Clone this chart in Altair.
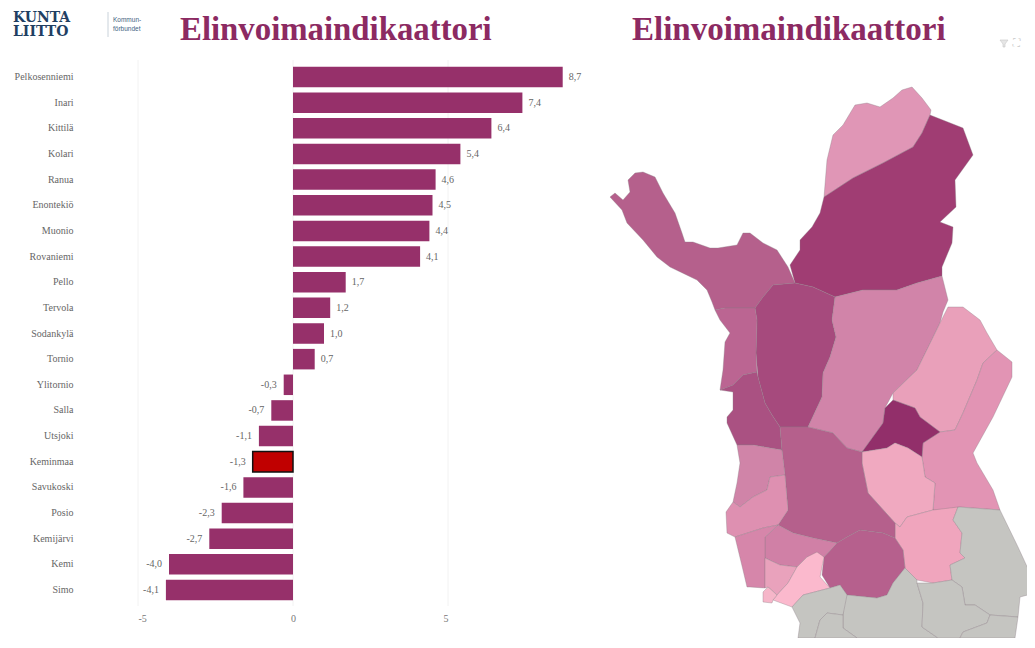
import altair as alt
import pandas as pd

# ---------- bar chart data ----------
names = ["Pelkosenniemi", "Inari", "Kittilä", "Kolari", "Ranua", "Enontekiö", "Muonio",
         "Rovaniemi", "Pello", "Tervola", "Sodankylä", "Tornio", "Ylitornio", "Salla",
         "Utsjoki", "Keminmaa", "Savukoski", "Posio", "Kemijärvi", "Kemi", "Simo"]
values = [8.7, 7.4, 6.4, 5.4, 4.6, 4.5, 4.4, 4.1, 1.7, 1.2, 1.0, 0.7,
          -0.3, -0.7, -1.1, -1.3, -1.6, -2.3, -2.7, -4.0, -4.1]
x_ticks = [-5, 0, 5]
TITLE = "Elinvoimaindikaattori"

# ---------- map regions (page pixels) ----------
utsjoki = [(824,197),(827,160),(833,135),(843,125),(855,105),(867,103),(880,107),(893,98),(902,90),(912,87),(922,98),(931,110),(930,115),(922,133),(913,147),(883,163),(853,178)]
inari = [(824,197),(853,178),(883,163),(913,147),(922,133),(930,115),(963,128),(973,155),(955,180),(956,207),(940,222),(953,227),(952,243),(942,267),(942,276),(917,283),(897,290),(863,290),(835,297),(813,287),(795,283),(790,265),(800,250),(800,240),(812,227),(820,213)]
enontekio = [(610,197),(615,193),(623,200),(630,192),(628,180),(635,173),(643,172),(655,177),(663,193),(675,213),(682,233),(685,242),(693,242),(710,248),(718,248),(737,245),(743,233),(750,233),(763,243),(777,250),(788,267),(795,283),(773,285),(763,297),(755,308),(725,308),(715,310),(712,302),(707,290),(697,280),(670,267),(657,257),(643,240),(627,223),(622,210)]
kittila = [(773,285),(795,283),(813,287),(835,297),(832,320),(836,337),(830,357),(823,373),(822,397),(808,427),(780,427),(772,415),(765,403),(758,377),(756,353),(757,320),(755,308),(763,297)]
muonio = [(715,310),(725,308),(755,308),(757,320),(756,353),(757,372),(743,375),(733,385),(720,390),(723,370),(725,342),(730,333),(720,320)]
kolari = [(720,390),(733,385),(743,375),(757,372),(758,377),(765,403),(772,415),(780,427),(782,450),(770,448),(753,445),(737,445),(727,423),(727,417),(733,410),(733,392)]
sodankyla = [(835,297),(863,290),(897,290),(917,283),(942,276),(948,300),(943,312),(940,323),(917,370),(893,393),(885,408),(883,423),(862,452),(847,448),(833,433),(808,427),(822,397),(823,373),(830,357),(836,337),(832,320)]
savukoski = [(948,307),(963,307),(980,320),(987,333),(997,350),(983,363),(977,380),(963,413),(955,430),(940,432),(920,417),(915,408),(893,400),(893,393),(917,370),(940,323)]
salla = [(997,350),(1012,362),(1012,377),(993,417),(973,453),(977,463),(993,490),(1000,510),(960,507),(943,510),(933,510),(935,483),(925,477),(922,457),(923,443),(940,432),(955,430),(963,413),(977,380),(983,363)]
pelkosenniemi = [(893,400),(915,408),(920,417),(940,432),(923,443),(922,457),(908,448),(895,443),(887,448),(862,452),(883,423),(885,408)]
kemijarvi = [(862,452),(887,448),(895,443),(908,448),(922,457),(925,477),(935,483),(933,510),(907,517),(900,527),(895,523),(868,493),(862,463)]
posio = [(907,517),(933,510),(958,507),(953,520),(962,533),(960,553),(965,558),(950,565),(952,580),(933,583),(917,580),(905,568),(903,550),(895,538),(895,523),(900,527)]
rovaniemi = [(780,427),(808,427),(833,433),(847,448),(862,452),(862,463),(868,493),(895,523),(895,538),(883,533),(860,530),(847,537),(837,543),(813,538),(793,533),(778,525),(788,510),(785,475),(782,450)]
ranua = [(837,543),(847,537),(860,530),(883,533),(895,538),(903,550),(905,568),(893,583),(887,595),(877,598),(847,595),(840,585),(830,588),(822,575),(824,557)]
pello = [(737,445),(753,445),(770,448),(782,450),(785,475),(770,477),(767,490),(753,497),(740,507),(733,502),(737,483),(740,463)]
ylitornio = [(733,502),(740,507),(753,497),(767,490),(770,477),(785,475),(788,510),(778,525),(763,528),(735,537),(727,533),(726,512)]
tervola = [(778,525),(793,533),(813,538),(837,543),(824,557),(807,557),(797,567),(780,565),(765,558),(765,537)]
tornio = [(735,537),(763,528),(778,525),(765,537),(765,558),(765,588),(750,587),(747,587),(743,570)]
keminmaa = [(765,558),(780,565),(797,567),(788,583),(777,595),(768,587),(765,588)]
simo = [(807,557),(817,552),(824,557),(820,577),(830,588),(803,595),(792,607),(773,600),(777,595),(788,583),(797,567)]
kemi = [(763,592),(768,587),(777,595),(773,600),(772,603),(763,602)]
gray1 = [(958,507),(1000,510),(1018,547),(1030,573),(1035,593),(1020,597),(1018,617),(990,615),(975,605),(965,605),(962,587),(952,580),(950,565),(965,558),(960,553),(962,533),(953,520)]
gray2 = [(843,595),(847,595),(877,598),(887,595),(893,583),(905,568),(917,580),(917,583),(923,603),(922,627),(938,638),(857,638),(843,628),(843,615)]
gray3 = [(917,583),(933,583),(952,580),(962,587),(965,605),(975,605),(990,615),(987,623),(963,632),(960,638),(938,638),(922,627),(923,603)]
gray4 = [(990,615),(1018,617),(1015,638),(960,638),(963,632),(987,623)]
gray5 = [(792,607),(803,595),(830,588),(840,585),(847,595),(843,615),(827,613),(820,620),(815,638),(798,638),(800,623)]
gray6 = [(827,613),(843,615),(843,628),(857,638),(815,638),(820,620)]
funnel_icon = [(1000,40),(1008,40),(1005,44),(1005,47),(1003,47),(1003,44)]

regions = [
    ("Utsjoki", utsjoki, "#e096b6"), ("Inari", inari, "#a03d73"), ("Enontekiö", enontekio, "#b5608c"),
    ("Kittilä", kittila, "#a64a7d"), ("Muonio", muonio, "#bb6592"), ("Kolari", kolari, "#aa5182"),
    ("Sodankylä", sodankyla, "#d184a9"), ("Savukoski", savukoski, "#e9a0ba"), ("Salla", salla, "#e294b4"),
    ("Pelkosenniemi", pelkosenniemi, "#922f6a"), ("Kemijärvi", kemijarvi, "#f0a9c0"), ("Posio", posio, "#f0a5bd"),
    ("Rovaniemi", rovaniemi, "#b5608c"), ("Ranua", ranua, "#b6608d"), ("Pello", pello, "#d084a8"),
    ("Ylitornio", ylitornio, "#de90b1"), ("Tervola", tervola, "#d080a6"), ("Tornio", tornio, "#d686aa"),
    ("Keminmaa", keminmaa, "#e9a2bc"), ("Simo", simo, "#fbb9cd"), ("Kemi", kemi, "#f6b6c9"),
    ("a", gray1, "#c5c5c1"), ("b", gray2, "#c5c5c1"), ("c", gray3, "#c5c5c1"),
    ("d", gray4, "#c5c5c1"), ("e", gray5, "#c5c5c1"), ("f", gray6, "#c5c5c1"),
]


def feature(name, pts, color):
    ring = [list(p) for p in pts] + [list(pts[0])]
    return {"type": "Feature", "geometry": {"type": "Polygon", "coordinates": [ring]},
            "properties": {"name": name, "color": color}}


features = [feature(*r) for r in regions]
df = pd.DataFrame({"name": names, "value": values})
df["label"] = df["value"].map(lambda v: f"{v:.1f}".replace(".", ","))

serif = "Liberation Serif"
x_enc = alt.X("value:Q", title=None,
              scale=alt.Scale(domain=[-5, 5], range=[130, 440], nice=False, zero=False),
              axis=alt.Axis(values=x_ticks, grid=False, domain=False, ticks=False, offset=-20,
                            labelFont=serif, labelFontSize=10, labelColor="#777777", labelPadding=0,
                            labelBaseline="middle", labelExpr="replace(datum.label, '−', '-')"))
y_enc = alt.Y("name:N", title=None,
              scale=alt.Scale(domain=names, range=[56.2, 594.8], paddingInner=0.2, paddingOuter=0.1),
              axis=alt.Axis(orient="left", offset=-65, domain=False, ticks=False, grid=False,
                            labelFont=serif, labelFontSize=10, labelColor="#666666", labelPadding=0,
                            labelLimit=120))

grid = alt.Chart(pd.DataFrame({"value": x_ticks})).mark_rule(color="#f2f2f2", strokeWidth=1).encode(
    x=x_enc, y=alt.value(52), y2=alt.value(598))

bars = alt.Chart(df).mark_bar(strokeWidth=1.5).encode(
    x=x_enc, y=y_enc,
    fill=alt.condition("datum.name === 'Keminmaa'", alt.value("#c00000"), alt.value("#96306a")),
    stroke=alt.condition("datum.name === 'Keminmaa'", alt.value("#111111"), alt.value("transparent")),
)

pos = alt.Chart(df[df["value"] >= 0]).mark_text(align="left", dx=6, font=serif, fontSize=10, color="#666666").encode(
    x=x_enc, y=y_enc, text="label:N")
neg = alt.Chart(df[df["value"] < 0]).mark_text(align="right", dx=-7, font=serif, fontSize=10, color="#666666").encode(
    x=x_enc, y=y_enc, text="label:N")

geo = alt.Chart(alt.Data(values=features)).mark_geoshape(stroke="#8a7a84", strokeWidth=0.5, strokeOpacity=0.7).encode(
    fill=alt.Color("properties.color:N", scale=None, legend=None)
).project(type="identity", scale=1, translate=[-8, -8])

icon = alt.Chart(alt.Data(values=[feature("icon", funnel_icon, "#d0d0d0")])).mark_geoshape(
    stroke="#c8c8c8", strokeWidth=0.6, fill="#e6e6e6"
).project(type="identity", scale=1, translate=[-8, -8])


def label(text, x, y, size, color, font=serif, weight="normal", align="left"):
    return alt.Chart(pd.DataFrame({"t": [text]})).mark_text(
        font=font, fontSize=size, color=color, fontWeight=weight, align=align, baseline="middle"
    ).encode(text="t:N", x=alt.value(x - 8), y=alt.value(y - 8))


texts = [
    label(TITLE, 180, 30, 32.8, "#8c2a62", weight="bold"),
    label(TITLE, 632, 30, 33, "#8c2a62", weight="bold"),
    label("KUNTA", 13, 18, 14, "#1f3f63", font="DejaVu Serif", weight="bold"),
    label("LIITTO", 13, 32, 14, "#1f3f63", font="DejaVu Serif", weight="bold"),
    label("Kommun-", 113, 20, 6.5, "#3f5f7f", font="Liberation Sans"),
    label("förbundet", 113, 29, 6.5, "#3f5f7f", font="Liberation Sans"),
    label("⛶", 1013, 43, 10, "#c8c8c8", font="DejaVu Sans"),
]

divider = alt.Chart(pd.DataFrame({"a": [0]})).mark_rule(color="#c9d2da", strokeWidth=1).encode(
    x=alt.value(108 - 8), y=alt.value(12 - 8), y2=alt.value(37 - 8))

chart = alt.layer(grid, geo, icon, bars, pos, neg, divider, *texts).properties(
    width=1019, height=630, padding=0, background="white",
    autosize=alt.AutoSizeParams(type="none")
).configure_view(stroke=None)

chart.save("out.html", embed_options={"renderer": "svg", "actions": False})
